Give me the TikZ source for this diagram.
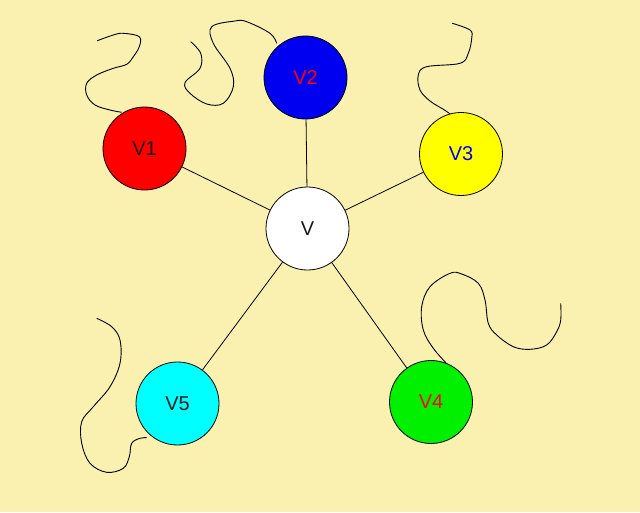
\documentclass[tikz,border=0pt]{standalone}
\usepackage{fontspec}
\setmainfont{Liberation Sans}
\definecolor{bg}{RGB}{250,241,176}
\definecolor{cred}{RGB}{255,0,0}
\definecolor{cblue}{RGB}{0,0,240}
\definecolor{cyel}{RGB}{255,255,0}
\definecolor{cgreen}{RGB}{0,240,0}
\definecolor{ccyan}{RGB}{0,255,255}
\definecolor{tdark}{RGB}{25,25,25}
\definecolor{tblue}{RGB}{0,0,255}
\begin{document}
\begin{tikzpicture}[x=1pt,y=-1pt,
  vert/.style={circle,draw=black,line width=0.8pt,minimum size=83pt,inner sep=0pt,font=\fontsize{20}{22}\selectfont},
  edge/.style={draw=black,line width=0.8pt},
  squig/.style={draw=black,line width=0.9pt}]
\fill[bg] (0,0) rectangle (640,512);
\useasboundingbox (0,0) rectangle (640,512);
% squiggles
\draw[squig] plot[smooth,tension=0.6] coordinates {(97.3,40.7) (113.3,35) (123.3,33.3) (139.3,36.7) (139.3,46.7) (133.3,56.7) (126.7,64.3) (113.3,68.3) (96.7,75) (86.7,83.3) (86.7,95) (95,105) (110,110) (121.7,112.3)};
\draw[squig] plot[smooth,tension=0.6] coordinates {(190.7,41.7) (200.7,53.3) (200,68.3) (185,82.7) (190,93.3) (206.7,104) (223.3,103.3) (233.3,86.7) (230,68.3) (213.3,43.3) (211.7,26.7) (235,21) (246.7,21.7) (270,33.3) (276.7,43.3)};
\draw[squig] plot[smooth,tension=0.6] coordinates {(452.3,23.3) (470,30) (471.7,38.3) (468.3,53.3) (460,63.3) (426.7,66.7) (418.3,75) (420,90) (430,101) (443.3,109.3) (451.7,115)};
\draw[squig] plot[smooth,tension=0.6] coordinates {(448,365) (433.3,348.3) (423.3,330) (421.7,306.7) (430,286.7) (450,273.3) (461.7,274) (478.3,283.3) (485,300) (488.3,323.3) (496.7,335) (513.3,346.7) (530,349.3) (546.7,345) (556.7,331.7) (560.7,320) (560.7,303.3)};
\draw[squig] plot[smooth,tension=0.6] coordinates {(96.7,318.3) (111.7,326.7) (120,340) (120,363.3) (110,386.7) (93.3,406.7) (81.7,421.7) (81.7,443.3) (90,463.3) (106.7,472.3) (123.3,468.3) (129.3,456.7) (131.7,443.3) (140,438.3) (146.7,437.7)};
% vertices
\node[vert,fill=white,text=tdark] (V) at (307.5,228.5) {V};
\node[vert,fill=cred,text=tdark] (V1) at (144.5,148.5) {V1};
\node[vert,fill=cblue,text=cred] (V2) at (305.5,77.5) {V2};
\node[vert,fill=cyel,text=tblue] (V3) at (461,154) {V3};
\node[vert,fill=cgreen,text=cred] (V4) at (431,402) {V4};
\node[vert,fill=ccyan,text=tdark] (V5) at (177.5,403.5) {V5};
% edges
\draw[edge] (V) -- (V1);
\draw[edge] (V) -- (V2);
\draw[edge] (V) -- (V3);
\draw[edge] (V) -- (V4);
\draw[edge] (V) -- (V5);
\end{tikzpicture}
\end{document}
